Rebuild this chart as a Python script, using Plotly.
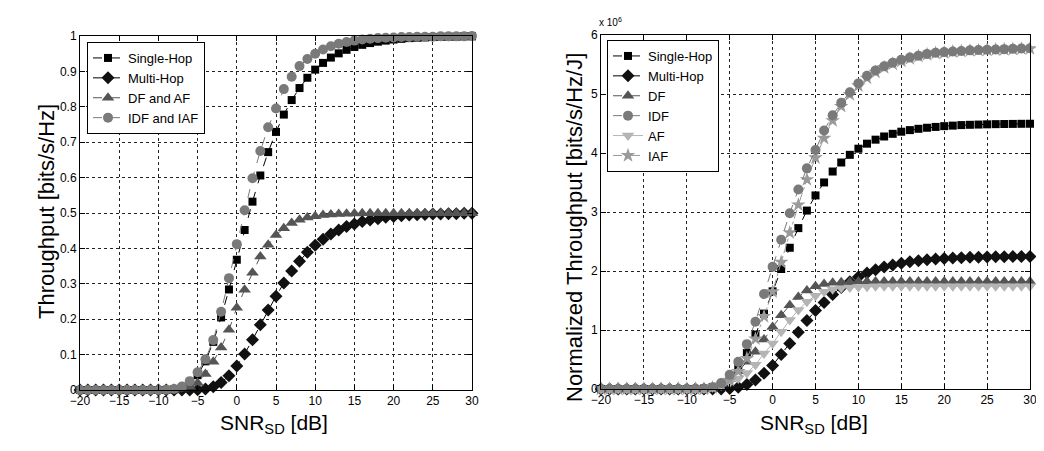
import plotly.graph_objects as go

# ---------------- data ----------------
snr_db = list(range(-20, 31))

# Left panel: Throughput [bits/s/Hz]
single_hop_l = [0]*11 + [0.0004, 0.0018, 0.0067, 0.0187, 0.042, 0.081, 0.136, 0.205, 0.284, 0.368,
                         0.452, 0.532, 0.606, 0.672, 0.729, 0.778, 0.819, 0.853, 0.882, 0.905,
                         0.924, 0.939, 0.951, 0.961, 0.969, 0.975, 0.980, 0.984, 0.987, 0.990,
                         0.992, 0.994, 0.995, 0.996, 0.997, 0.9975, 0.998, 0.998, 0.999, 0.999]
multi_hop_l = [0]*15 + [0.001, 0.003, 0.009, 0.021, 0.040, 0.068, 0.102, 0.142, 0.184, 0.226,
                        0.265, 0.302, 0.336, 0.364, 0.389, 0.409, 0.426, 0.441, 0.452, 0.462,
                        0.469, 0.476, 0.480, 0.484, 0.488, 0.490, 0.492, 0.494, 0.495, 0.496,
                        0.497, 0.4975, 0.498, 0.498, 0.499, 0.499]
df_af_l = [0]*12 + [0.001, 0.004, 0.009, 0.020, 0.045, 0.080, 0.120, 0.170, 0.232, 0.283,
                    0.331, 0.377, 0.410, 0.438, 0.457, 0.472, 0.481, 0.487, 0.491, 0.494,
                    0.496, 0.497, 0.498, 0.4985] + [0.499]*15
idf_iaf_l = [0]*11 + [0.001, 0.003, 0.010, 0.025, 0.050, 0.087, 0.141, 0.221, 0.316, 0.412,
                      0.508, 0.598, 0.675, 0.742, 0.795, 0.850, 0.885, 0.915, 0.935, 0.950,
                      0.962, 0.971, 0.978, 0.983, 0.987, 0.990, 0.992, 0.994, 0.995, 0.996,
                      0.997, 0.997, 0.998, 0.998, 0.998, 0.999, 0.999, 0.999, 0.999, 1.0]

# Right panel: Normalized Throughput [bits/s/Hz/J] (x 10^6)
single_hop_r = [0]*11 + [0.002, 0.008, 0.030, 0.084, 0.189, 0.365, 0.612, 0.923, 1.278, 1.656,
                         2.034, 2.394, 2.727, 3.024, 3.281, 3.501, 3.686, 3.839, 3.969, 4.073,
                         4.158, 4.226, 4.280, 4.325, 4.361, 4.388, 4.410, 4.428, 4.442, 4.455,
                         4.464, 4.473, 4.478, 4.482, 4.486, 4.489, 4.491, 4.493, 4.495, 4.496]
multi_hop_r = [0]*15 + [0.010, 0.031, 0.076, 0.152, 0.265, 0.400, 0.583, 0.770, 0.960, 1.160,
                        1.330, 1.468, 1.603, 1.719, 1.816, 1.898, 1.966, 2.021, 2.066, 2.103,
                        2.132, 2.156, 2.175, 2.190, 2.202, 2.212, 2.220, 2.226, 2.231, 2.235,
                        2.238, 2.240, 2.242, 2.244, 2.245, 2.246]
df_r = [0]*12 + [0.01, 0.03, 0.08, 0.17, 0.30, 0.46, 0.63, 0.84, 1.05, 1.25,
                 1.42, 1.56, 1.67, 1.74, 1.78, 1.80, 1.81, 1.815] + [1.82]*21
idf_r = [0]*13 + [0.03, 0.10, 0.24, 0.46, 0.76, 1.14, 1.61, 2.07, 2.53, 2.98,
                  3.38, 3.74, 4.05, 4.38, 4.64, 4.85, 5.03, 5.18, 5.31, 5.40,
                  5.47, 5.53, 5.58, 5.62, 5.65, 5.68, 5.70, 5.71, 5.72, 5.73,
                  5.74, 5.745, 5.75, 5.755, 5.76, 5.765, 5.77, 5.775]
af_r = [0]*12 + [0.01, 0.03, 0.06, 0.11, 0.18, 0.27, 0.41, 0.60, 0.77, 0.97,
                 1.17, 1.34, 1.48, 1.58, 1.65, 1.69, 1.71, 1.72, 1.73, 1.735] + [1.74]*19
iaf_r = [0]*13 + [0.02, 0.07, 0.15, 0.30, 0.52, 0.85, 1.23, 1.65, 2.15, 2.65,
                  3.12, 3.55, 3.92, 4.25, 4.55, 4.79, 4.99, 5.14, 5.27, 5.37,
                  5.45, 5.51, 5.56, 5.60, 5.64, 5.67, 5.69, 5.70, 5.715, 5.725,
                  5.735, 5.74, 5.745, 5.75, 5.755, 5.76, 5.765, 5.77]

x_ticks = [-20, -15, -10, -5, 0, 5, 10, 15, 20, 25, 30]
y_ticks_l = [0, 0.1, 0.2, 0.3, 0.4, 0.5, 0.6, 0.7, 0.8, 0.9, 1]
y_ticks_r = [0, 1, 2, 3, 4, 5, 6]

# ---------------- figure ----------------
OFF = 8                      # page body margin of the html page
W, H = 1044 - OFF, 451 - OFF
FONT = "Liberation Sans, Arial, sans-serif"

def px(xp):
    return (xp - OFF) / W

def py(yp):
    return 1 - (yp - OFF) / H

fig = go.Figure()

def add(y, name, xa, ya, legend, symbol, mcolor, msize, lcolor, dash, z=0):
    fig.add_trace(go.Scatter(
        x=snr_db, y=y, name=name, xaxis=xa, yaxis=ya, legend=legend,
        mode="lines+markers", cliponaxis=False, zorder=z,
        line=dict(color=lcolor, width=1, dash=dash),
        marker=dict(symbol=symbol, color=mcolor, size=msize, line=dict(width=0)),
    ))

add(single_hop_l, "Single-Hop", "x", "y", "legend", "square", "#000000", 8, "#000000", "dash")
add(multi_hop_l, "Multi-Hop", "x", "y", "legend", "diamond", "#111111", 10, "#000000", "dash")
add(df_af_l, "DF and AF", "x", "y", "legend", "triangle-up", "#555555", 11, "#555555", "dash")
add(idf_iaf_l, "IDF and IAF", "x", "y", "legend", "circle", "#7a7a7a", 10, "#7a7a7a", "dash")

add(single_hop_r, "Single-Hop", "x2", "y2", "legend2", "square", "#000000", 8, "#000000", "dash")
add(multi_hop_r, "Multi-Hop", "x2", "y2", "legend2", "diamond", "#111111", 10, "#000000", "dash")
add(df_r, "DF", "x2", "y2", "legend2", "triangle-up", "#555555", 11, "#555555", "dash")
add(idf_r, "IDF", "x2", "y2", "legend2", "circle", "#7a7a7a", 10, "#7a7a7a", "dash", z=1)
add(af_r, "AF", "x2", "y2", "legend2", "triangle-down", "#b4b4b4", 11, "#b4b4b4", "solid")
add(iaf_r, "IAF", "x2", "y2", "legend2", "star", "#9a9a9a", 11, "#9a9a9a", "dashdot")

def xax(domain, anchor):
    return dict(domain=domain, anchor=anchor, range=[-20, 30], tickvals=x_ticks,
                automargin=False,
                showline=True, linecolor="black", linewidth=1, mirror="allticks",
                ticks="inside", ticklen=5, tickcolor="black",
                showgrid=True, gridcolor="#222222", gridwidth=1, griddash="dot",
                zeroline=False, tickfont=dict(family=FONT, size=12, color="black"))

def yax(domain, anchor, rng, ticks):
    return dict(domain=domain, anchor=anchor, range=rng, tickvals=ticks,
                automargin=False,
                showline=True, linecolor="black", linewidth=1, mirror="allticks",
                ticks="inside", ticklen=5, tickcolor="black",
                showgrid=True, gridcolor="#222222", gridwidth=1, griddash="dot",
                zeroline=False, tickfont=dict(family=FONT, size=12, color="black"))

fig.update_layout(
    width=W, height=H, autosize=False,
    margin=dict(l=0, r=0, t=0, b=0, pad=0, autoexpand=False),
    paper_bgcolor="white", plot_bgcolor="white",
    font=dict(family=FONT, color="black"),
    xaxis=xax([px(80), px(472)], "y"),
    yaxis=yax([py(390), py(36)], "x", [0, 1], y_ticks_l),
    xaxis2=xax([px(601), px(1030)], "y2"),
    yaxis2=yax([py(389), py(35)], "x2", [0, 6], y_ticks_r),
    legend=dict(x=px(87), y=py(42), xanchor="left", yanchor="top",
                bgcolor="white", bordercolor="black", borderwidth=1,
                font=dict(family=FONT, size=13, color="black"),
                itemwidth=30, tracegroupgap=0),
    legend2=dict(x=px(607), y=py(40), xanchor="left", yanchor="top",
                 bgcolor="white", bordercolor="black", borderwidth=1,
                 font=dict(family=FONT, size=13, color="black"),
                 itemwidth=30, tracegroupgap=0),
    annotations=[
        dict(text="Throughput [bits/s/Hz]", textangle=-90, xref="paper", yref="paper",
             x=px(46), y=py(212), xanchor="center", yanchor="middle",
             showarrow=False, font=dict(family=FONT, size=22, color="black")),
        dict(text="Normalized Throughput [bits/s/Hz/J]", textangle=-90, xref="paper", yref="paper",
             x=px(575), y=py(228), xanchor="center", yanchor="middle",
             showarrow=False, font=dict(family=FONT, size=22, color="black")),
        dict(text="SNR<sub>SD</sub> [dB]", xref="paper", yref="paper",
             x=px(274), y=py(424), xanchor="center", yanchor="middle",
             showarrow=False, font=dict(family=FONT, size=21, color="black")),
        dict(text="SNR<sub>SD</sub> [dB]", xref="paper", yref="paper",
             x=px(814), y=py(424), xanchor="center", yanchor="middle",
             showarrow=False, font=dict(family=FONT, size=21, color="black")),
        dict(text="x 10<sup>6</sup>", xref="paper", yref="paper",
             x=px(597), y=py(22), xanchor="left", yanchor="middle",
             showarrow=False, font=dict(family=FONT, size=10, color="black")),
    ],
)

fig.write_html("out.html")
